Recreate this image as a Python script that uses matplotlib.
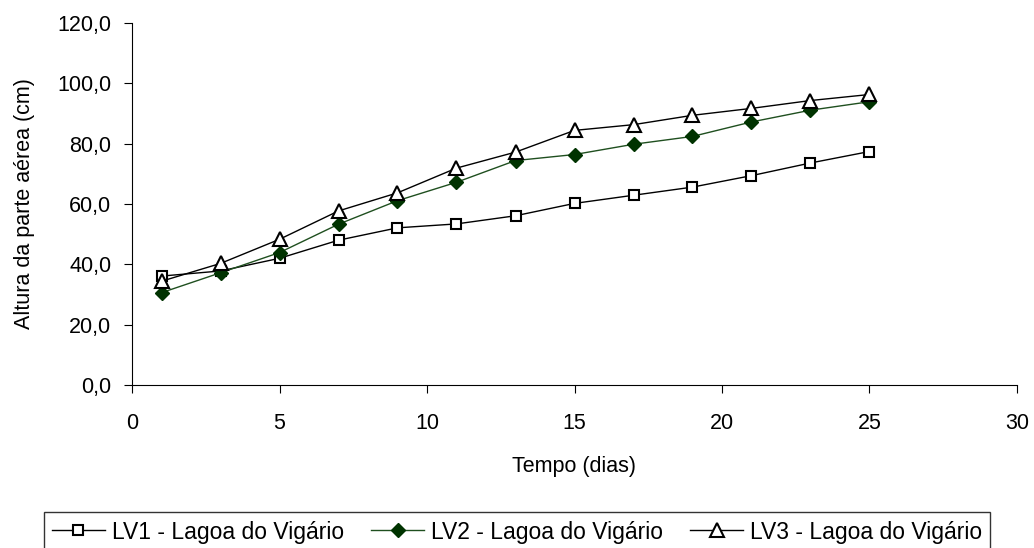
import matplotlib
matplotlib.use("Agg")
import matplotlib.pyplot as plt
from matplotlib.ticker import FuncFormatter

plt.rcParams['font.family'] = ['Liberation Sans', 'DejaVu Sans']

# dados
dias = [1, 3, 5, 7, 9, 11, 13, 15, 17, 19, 21, 23, 25]
lv1 = [36.1, 37.8, 42.0, 48.0, 52.1, 53.4, 56.1, 60.2, 62.9, 65.6, 69.4, 73.6, 77.4]
lv2 = [30.6, 37.2, 43.9, 53.3, 61.1, 67.2, 74.4, 76.4, 79.8, 82.4, 87.2, 91.1, 93.9]
lv3 = [34.4, 40.3, 48.3, 57.7, 63.7, 71.9, 77.2, 84.4, 86.3, 89.4, 91.7, 94.3, 96.3]
nomes = ["LV1 - Lagoa do Vigário", "LV2 - Lagoa do Vigário", "LV3 - Lagoa do Vigário"]

fs = 15.5

fig = plt.figure(figsize=(10.34, 5.48), dpi=100)
ax = fig.add_axes([132 / 1034, 1 - 385 / 548, (1017 - 132) / 1034, (385 - 23) / 548])

ax.plot(dias, lv1, color='black', lw=1, marker='s', ms=7.5, mfc='white', mec='black', mew=1.5, label=nomes[0])
ax.plot(dias, lv2, color='#1f4f1f', lw=1, marker='D', ms=7, mfc='#003300', mec='#003300', label=nomes[1])
ax.plot(dias, lv3, color='black', lw=1, marker='^', ms=9.5, mfc='white', mec='black', mew=1.5, label=nomes[2])

ax.set_xlim(0, 30)
ax.set_ylim(0, 120)
ax.set_xticks(range(0, 31, 5))
ax.set_yticks(range(0, 121, 20))
ax.yaxis.set_major_formatter(FuncFormatter(lambda v, p: f"{v:.1f}".replace('.', ',')))

for s in ['top', 'right']:
    ax.spines[s].set_visible(False)
ax.tick_params(direction='out', length=6, labelsize=fs)
ax.tick_params(axis='y', pad=9)
ax.tick_params(axis='x', pad=14)

ax.set_xlabel("Tempo (dias)", fontsize=fs, labelpad=16)
ax.set_ylabel("Altura da parte aérea (cm)", fontsize=fs, labelpad=16)

leg = fig.legend(loc='center', bbox_to_anchor=(517 / 1034, 1 - 532 / 548), ncol=3, fontsize=16.5,
                 frameon=True, fancybox=False, edgecolor='black', handlelength=2.3,
                 columnspacing=1.2, handletextpad=0.3, borderpad=0.35)
leg.get_frame().set_linewidth(1)

fig.savefig("out.png", dpi=100)
